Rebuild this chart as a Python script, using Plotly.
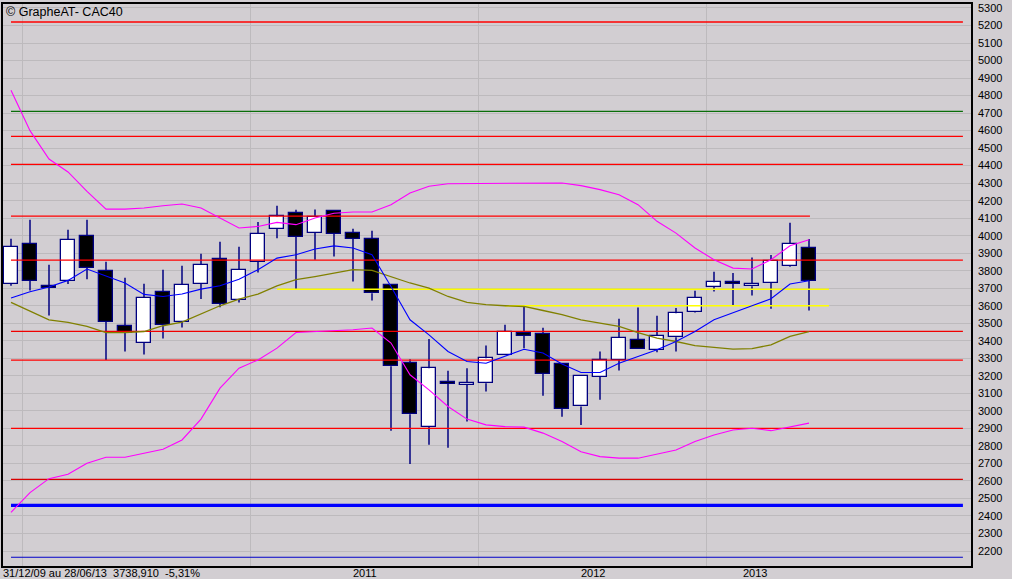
import plotly.graph_objects as go

# ---------------- data (monthly CAC40, Dec 2009 - Jun 2013) ----------------
months = ["2009-12",
          "2010-01", "2010-02", "2010-03", "2010-04", "2010-05", "2010-06",
          "2010-07", "2010-08", "2010-09", "2010-10", "2010-11", "2010-12",
          "2011-01", "2011-02", "2011-03", "2011-04", "2011-05", "2011-06",
          "2011-07", "2011-08", "2011-09", "2011-10", "2011-11", "2011-12",
          "2012-01", "2012-02", "2012-03", "2012-04", "2012-05", "2012-06",
          "2012-07", "2012-08", "2012-09", "2012-10", "2012-11", "2012-12",
          "2013-01", "2013-02", "2013-03", "2013-04", "2013-05", "2013-06"]

opens = [3724, 3952, 3714, 3741, 3998, 3798, 3484, 3387, 3678, 3507, 3724, 3867, 3633,
         3850, 4038, 4130, 4015, 4139, 4015, 3981, 3718, 3272, 2910, 3166, 3150,
         3158, 3318, 3444, 3438, 3268, 3025, 3196, 3293, 3404, 3347, 3421, 3567,
         3707, 3735, 3712, 3730, 3825, 3930]
highs = [3983, 4091, 3834, 4034, 4091, 3851, 3760, 3726, 3806, 3829, 3897, 3966, 3937,
         4078, 4171, 4148, 4150, 4139, 4040, 4028, 3718, 3295, 3410, 3229, 3244,
         3373, 3491, 3596, 3474, 3268, 3198, 3339, 3526, 3590, 3543, 3587, 3686,
         3794, 3787, 3876, 3890, 4074, 3981]
lows = [3714, 3687, 3545, 3724, 3752, 3291, 3339, 3322, 3413, 3476, 3638, 3592, 3619,
        3790, 3985, 3695, 3863, 3882, 3739, 3630, 2887, 2697, 2806, 2790, 2939,
        3110, 3318, 3358, 3086, 2967, 2920, 3063, 3230, 3354, 3335, 3339, 3562,
        3682, 3602, 3659, 3583, 3821, 3573]
closes = [3935, 3741, 3701, 3975, 3815, 3507, 3447, 3644, 3490, 3718, 3833, 3610, 3804,
          4011, 4110, 3992, 4107, 4010, 3981, 3672, 3255, 2981, 3244, 3153, 3160,
          3301, 3453, 3427, 3210, 3013, 3198, 3290, 3417, 3354, 3429, 3558, 3644,
          3735, 3724, 3727, 3857, 3952, 3743]

ma_short = [3644, 3680, 3707, 3745, 3810, 3771, 3730, 3665, 3653, 3667, 3695, 3714, 3752,
            3806, 3872, 3891, 3924, 3942, 3930, 3891, 3710, 3520, 3434, 3339, 3282,
            3272, 3310, 3352, 3330, 3267, 3219, 3219, 3272, 3310, 3349, 3396, 3453,
            3520, 3558, 3600, 3640, 3724, 3743]
ma_long = [3619, 3570, 3520, 3505, 3482, 3447, 3447, 3453, 3486, 3507, 3553, 3600, 3638,
           3667, 3714, 3749, 3767, 3788, 3806, 3802, 3767, 3730, 3701, 3653, 3619,
           3606, 3600, 3596, 3573, 3549, 3520, 3501, 3482, 3447, 3415, 3396, 3373,
           3362, 3352, 3355, 3377, 3425, 3453]
bb_upper = [4830, 4600, 4438, 4364, 4253, 4152, 4152, 4158, 4171, 4181, 4158, 4101, 4044,
            4053, 4076, 4063, 4101, 4128, 4135, 4135, 4177, 4244, 4282, 4297, 4297,
            4301, 4301, 4297, 4297, 4301, 4286, 4263, 4234, 4177, 4082, 4015, 3930,
            3863, 3815, 3810, 3863, 3943, 3977]
bb_lower = [2421, 2533, 2613, 2638, 2701, 2735, 2735, 2758, 2781, 2834, 2953, 3130, 3244,
            3291, 3358, 3447, 3452, 3459, 3463, 3473, 3387, 3206, 3120, 3025, 2953,
            2920, 2910, 2907, 2873, 2825, 2767, 2739, 2730, 2730, 2753, 2777, 2825,
            2862, 2891, 2901, 2887, 2910, 2930]

# horizontal levels (value, start index, end index)
levels = [5220, 4710, 4567, 4407, 4112, 3861, 3695, 3600, 3454, 3290, 2900, 2609, 2461, 2164]
level_from = [0, 0, 0, 0, 0, 0, 14, 26, 0, 0, 0, 0, 0, 0]
level_to = [50.1, 50.1, 50.1, 50.1, 42.05, 50.1, 43.05, 43.05, 50.1, 50.1, 50.1, 50.1, 50.1, 50.1]
level_colors = ["#ff0000", "#0a6e0a", "#ff0000", "#ff0000", "#ff0000", "#ff0000", "#ffff00",
                "#ffff00", "#f00000", "#ff0000", "#ff0000", "#d80000", "#0000ff", "#0000c8"]
level_widths = [1.3, 1.3, 1.3, 1.3, 1.3, 1.3, 1.5, 1.5, 1.2, 1.3, 1.2, 1.1, 3.2, 1.1]

y_ticks = list(range(2200, 5301, 100))
year_labels = ["2011", "2012", "2013"]
year_label_pos = [18.63, 30.62, 39.15]

title_text = "© GrapheAT- CAC40"
footer_text = "31/12/09 au 28/06/13&nbsp;&nbsp;3738,910&nbsp;&nbsp;-5,31%"

# ---------------- figure ----------------
BG = "#d2ced2"
GRID = "#bdbabd"
NAVY = "#000080"
FONT = "Liberation Sans, Arial, sans-serif"

idx = list(range(len(months)))
fig = go.Figure()

# candle bodies
fig.add_trace(go.Bar(
    x=idx,
    y=[abs(c - o) for o, c in zip(opens, closes)],
    base=[min(o, c) for o, c in zip(opens, closes)],
    width=0.77,
    marker=dict(color=["#ffffff" if c >= o else "#000000" for o, c in zip(opens, closes)],
                line=dict(color=NAVY, width=1.3)),
    hoverinfo="skip", showlegend=False,
))

# wicks (outside the bodies)
wx, wy = [], []
for i, (o, h, l, c) in enumerate(zip(opens, highs, lows, closes)):
    top, bot = max(o, c), min(o, c)
    if h > top:
        wx += [i, i, None]
        wy += [h, top, None]
    if l < bot:
        wx += [i, i, None]
        wy += [bot, l, None]
fig.add_trace(go.Scatter(x=wx, y=wy, mode="lines", line=dict(color=NAVY, width=1.5),
                         hoverinfo="skip", showlegend=False))

# horizontal levels
for v, a, b, col, w in zip(levels, level_from, level_to, level_colors, level_widths):
    fig.add_trace(go.Scatter(x=[a, b], y=[v, v], mode="lines",
                             line=dict(color=col, width=w),
                             hoverinfo="skip", showlegend=False))

# indicators
for ser, col, w in [(bb_upper, "#ff00ff", 1.1), (bb_lower, "#ff00ff", 1.1),
                    (ma_long, "#808000", 1.3), (ma_short, "#0000ff", 1.1)]:
    fig.add_trace(go.Scatter(x=idx, y=ser, mode="lines", line=dict(color=col, width=w),
                             hoverinfo="skip", showlegend=False))

year_grid = [i - 0.42 for i, m in enumerate(months) if m.endswith("-01")]

annotations = [
    dict(text=title_text, xref="paper", yref="paper", x=0.001, y=(566 - 12) / 562,
         xanchor="left", yanchor="middle", showarrow=False,
         font=dict(family=FONT, size=12.5, color="#000000")),
    dict(text=footer_text, xref="paper", yref="paper", x=-0.002, y=(566 - 573) / 562,
         xanchor="left", yanchor="middle", showarrow=False,
         font=dict(family=FONT, size=11, color="#000000")),
]
for pos, lab in zip(year_label_pos, year_labels):
    annotations.append(dict(text=lab, xref="x", yref="paper", x=pos, y=(566 - 573) / 562,
                            xanchor="center", yanchor="middle", showarrow=False,
                            font=dict(family=FONT, size=11, color="#000000")))

fig.update_layout(
    width=1012, height=579,
    margin=dict(l=3, r=41, t=4, b=13, pad=0),
    paper_bgcolor=BG, plot_bgcolor=BG,
    font=dict(family=FONT, size=11, color="#000000"),
    showlegend=False,
    bargap=0,
    xaxis=dict(
        range=[-0.421, 50.526], autorange=False,
        showticklabels=False,
        showgrid=False, zeroline=False, ticks="",
        showline=True, mirror=True, linecolor="#000000", linewidth=1.5,
        minor=dict(tickmode="array", tickvals=year_grid, showgrid=True,
                   gridcolor=GRID, gridwidth=1, ticks=""),
        automargin=False, fixedrange=True,
    ),
    yaxis=dict(
        range=[2114.4, 5322.8], autorange=False, side="right",
        tickmode="array", tickvals=y_ticks, ticktext=[str(t) for t in y_ticks],
        showgrid=True, gridcolor=GRID, gridwidth=1, zeroline=False, ticks="",
        tickfont=dict(family=FONT, size=11, color="#000000"),
        ticklabelstandoff=3,
        showline=True, mirror=True, linecolor="#000000", linewidth=1.5,
        automargin=False, fixedrange=True,
    ),
    annotations=annotations,
)

fig.write_html(
    "out.html",
    config={"displayModeBar": False},
    post_script="document.body.style.margin='0';document.body.style.padding='0';"
                "document.body.style.background='" + BG + "';",
)
